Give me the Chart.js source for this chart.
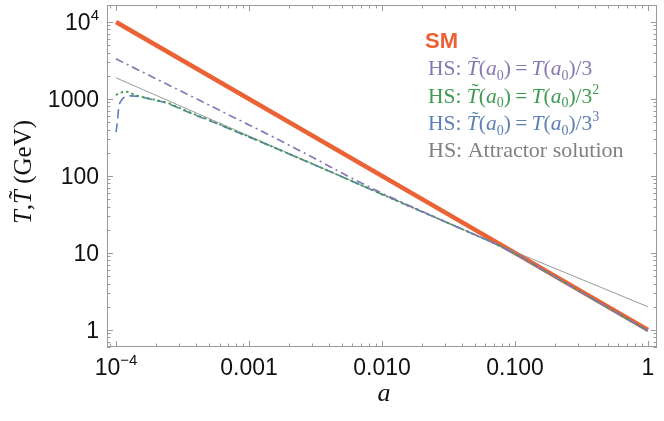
<!DOCTYPE html>
<html>
<head>
<meta charset="utf-8">
<script src="https://cdn.jsdelivr.net/npm/chart.js@4/dist/chart.umd.min.js"></script>
<style>
  html, body { margin: 0; padding: 0; background: #fff; }
</style>
</head>
<body>
<canvas id="chart" width="664" height="421"></canvas>
<script>
// Scale factor grid shared by the hidden-sector curves
const aGrid = [1e-4, 1.02e-4, 1.05e-4, 1.1e-4, 1.2e-4, 1.3e-4, 1.5e-4, 1.7e-4, 2e-4, 2.5e-4, 3e-4, 4e-4, 5e-4, 7e-4,
  1e-3, 1.5e-3, 2e-3, 3e-3, 5e-3, 7e-3, 0.01, 0.02, 0.03, 0.05, 0.07, 0.1, 0.2, 0.5, 1];

// HS temperature (GeV) for the three initial conditions
const hsThird = [3333, 3254, 3177, 3053, 2831, 2642, 2337, 2102, 1828, 1510, 1291, 1009, 834, 624,
  460, 324, 251, 175, 109, 81, 59.7, 34.7, 25.3, 17.2, 13.3, 9.7, 4.85, 1.94, 0.97];
const hsNinth = [1111, 1150, 1185, 1220, 1240, 1180, 1082, 1030, 966, 875, 765, 620, 535, 417,
  322, 239, 193, 143, 97.5, 75.5, 57.7, 34.3, 25.3, 17.2, 13.3, 9.7, 4.85, 1.94, 0.97];
const hsTwentySeventh = [370, 480, 780, 962, 1075, 1096, 1075, 1022, 955, 862, 752, 610, 527, 413,
  320, 239, 193, 143, 97.5, 75.5, 57.7, 34.3, 25.3, 17.2, 13.3, 9.7, 4.85, 1.94, 0.97];

// SM temperature and attractor solution
const smA = [1e-4, 1];
const smT = [1e4, 1];
const attractorA = [1e-4, 1e-3, 1e-2, 0.1, 1];
const attractorT = [1880, 330, 58, 10.3, 2.0];

// Tick labels
const xTicks = [1e-4, 1e-3, 1e-2, 0.1, 1];
const xTickLabels = [['10', '\u22124'], ['0.001'], ['0.010'], ['0.100'], ['1']];
const yTicks = [1, 10, 100, 1000, 1e4];
const yTickLabels = [['1'], ['10'], ['100'], ['1000'], ['10', '4']];

const SANS = '"Liberation Sans", Arial, sans-serif';
const SERIF = '"Liberation Serif", "Times New Roman", serif';

function toPoints(xs, ys) {
  return xs.map((x, i) => ({ x: x, y: ys[i] }));
}

// draw a run of text pieces with different fonts
function drawRich(ctx, x, y, segs, color, measureOnly) {
  let cx = x;
  segs.forEach((s) => {
    ctx.font = s.f;
    const w = ctx.measureText(s.t).width;
    if (!measureOnly) {
      ctx.fillStyle = color;
      ctx.fillText(s.t, cx, y + (s.dy || 0));
      if (s.tilde) {
        const size = parseFloat(s.f.match(/(\d+(\.\d+)?)px/)[1]);
        ctx.font = size + 'px ' + SERIF;
        const tw = ctx.measureText('\u02DC').width;
        ctx.fillText('\u02DC', cx + w / 2 - tw / 2 + size * 0.1, y - size * 0.2);
      }
    }
    cx += w;
  });
  return cx - x;
}

function legendSegs(size, power) {
  const R = size + 'px ' + SERIF;
  const I = 'italic ' + size + 'px ' + SERIF;
  const S = Math.round(size * 0.66) + 'px ' + SERIF;
  const segs = [
    { t: 'HS: ', f: R },
    { t: 'T', f: I, tilde: true },
    { t: '(', f: R },
    { t: 'a', f: I },
    { t: '0', f: S, dy: size * 0.22 },
    { t: ')\u2009=\u2009', f: R },
    { t: 'T', f: I },
    { t: '(', f: R },
    { t: 'a', f: I },
    { t: '0', f: S, dy: size * 0.22 },
    { t: ')/3', f: R },
  ];
  if (power) segs.push({ t: power, f: S, dy: -size * 0.4 });
  return segs;
}

const framePlugin = {
  id: 'frame',
  afterDraw(chart) {
    const ctx = chart.ctx;
    const area = chart.chartArea;
    const xs = chart.scales.x;
    const ys = chart.scales.y;
    ctx.save();

    // frame
    ctx.strokeStyle = '#9a9a9a';
    ctx.lineWidth = 1;
    ctx.strokeRect(area.left + 0.5, area.top + 0.5, area.right - area.left - 1, area.bottom - area.top - 1);

    // ticks on all four sides, pointing in
    ctx.beginPath();
    for (let n = -5; n <= 1; n++) {
      for (let k = 1; k <= 9; k++) {
        const v = k * Math.pow(10, n);
        if (v < xs.min || v > xs.max) continue;
        const px = Math.round(xs.getPixelForValue(v)) + 0.5;
        const len = k === 1 ? 6 : 3.5;
        ctx.moveTo(px, area.bottom); ctx.lineTo(px, area.bottom - len);
        ctx.moveTo(px, area.top); ctx.lineTo(px, area.top + len);
      }
    }
    for (let n = -1; n <= 5; n++) {
      for (let k = 1; k <= 9; k++) {
        const v = k * Math.pow(10, n);
        if (v < ys.min || v > ys.max) continue;
        const py = Math.round(ys.getPixelForValue(v)) + 0.5;
        const len = k === 1 ? 6 : 3.5;
        ctx.moveTo(area.left, py); ctx.lineTo(area.left + len, py);
        ctx.moveTo(area.right, py); ctx.lineTo(area.right - len, py);
      }
    }
    ctx.stroke();

    // tick labels
    const big = '23px ' + SANS;
    const small = '15px ' + SANS;
    ctx.fillStyle = '#111';
    ctx.textBaseline = 'alphabetic';
    ctx.textAlign = 'left';
    xTicks.forEach((v, i) => {
      const lab = xTickLabels[i];
      ctx.font = big;
      const w1 = ctx.measureText(lab[0]).width;
      let w2 = 0;
      if (lab[1]) { ctx.font = small; w2 = ctx.measureText(lab[1]).width; }
      const px = xs.getPixelForValue(v);
      const x0 = px - (w1 + w2) / 2;
      ctx.font = big;
      ctx.fillText(lab[0], x0, 375);
      if (lab[1]) { ctx.font = small; ctx.fillText(lab[1], x0 + w1, 365); }
    });
    yTicks.forEach((v, i) => {
      const lab = yTickLabels[i];
      ctx.font = big;
      const w1 = ctx.measureText(lab[0]).width;
      let w2 = 0;
      if (lab[1]) { ctx.font = small; w2 = ctx.measureText(lab[1]).width; }
      const py = ys.getPixelForValue(v);
      const x0 = 99 - w1 - w2;
      ctx.font = big;
      ctx.fillText(lab[0], x0, py + 8.5);
      if (lab[1]) { ctx.font = small; ctx.fillText(lab[1], x0 + w1, py - 1.5); }
    });

    // axis titles
    ctx.font = 'italic 26px ' + SERIF;
    ctx.textAlign = 'center';
    ctx.fillText('a', 384, 401);
    ctx.textAlign = 'left';

    const ySegs = [
      { t: 'T', f: 'italic 25px ' + SERIF },
      { t: ',', f: '25px ' + SERIF },
      { t: 'T', f: 'italic 25px ' + SERIF, tilde: true },
      { t: ' (GeV)', f: '25px ' + SERIF },
    ];
    ctx.translate(31, 172);
    ctx.rotate(-Math.PI / 2);
    const yw = drawRich(ctx, 0, 0, ySegs, '#111', true);
    drawRich(ctx, -yw / 2, 0, ySegs, '#111');
    ctx.setTransform(1, 0, 0, 1, 0, 0);

    // legend
    ctx.font = 'bold 22px ' + SANS;
    ctx.fillStyle = '#EB6235';
    ctx.fillText('SM', 425, 48);
    drawRich(ctx, 428, 75, legendSegs(21.5, ''), '#8778B3');
    drawRich(ctx, 428, 102.5, legendSegs(21.5, '2'), '#3F9B50');
    drawRich(ctx, 428, 130, legendSegs(21.5, '3'), '#5E81B5');
    ctx.font = '22px ' + SERIF;
    ctx.fillStyle = '#808080';
    ctx.fillText('HS: Attractor solution', 428, 157);

    ctx.restore();
  },
};

const ctx = document.getElementById('chart').getContext('2d');
new Chart(ctx, {
  type: 'line',
  data: {
    datasets: [
      {
        label: 'HS: T(a0)/3',
        data: toPoints(aGrid, hsThird),
        borderColor: '#8778B3',
        borderWidth: 1.7,
        borderDash: [8, 4, 2, 4],
        cubicInterpolationMode: 'monotone',
        order: 1,
      },
      {
        label: 'HS: T(a0)/3^2',
        data: toPoints(aGrid, hsNinth),
        borderColor: '#3F9B50',
        borderWidth: 1.8,
        borderDash: [2.5, 3],
        cubicInterpolationMode: 'monotone',
        order: 2,
      },
      {
        label: 'HS: T(a0)/3^3',
        data: toPoints(aGrid, hsTwentySeventh),
        borderColor: '#5E81B5',
        borderWidth: 1.6,
        borderDash: [9, 5],
        cubicInterpolationMode: 'monotone',
        order: 3,
      },
      {
        label: 'HS: Attractor solution',
        data: toPoints(attractorA, attractorT),
        borderColor: '#8f8f8f',
        borderWidth: 0.9,
        order: 4,
      },
      {
        label: 'SM',
        data: toPoints(smA, smT),
        borderColor: '#EB6235',
        borderWidth: 4.5,
        order: 5,
      },
    ],
  },
  options: {
    responsive: false,
    devicePixelRatio: 1,
    animation: false,
    elements: { point: { radius: 0 } },
    layout: { padding: { left: 107, right: 7, top: 5, bottom: 74 } },
    plugins: {
      legend: { display: false },
      tooltip: { enabled: false },
    },
    scales: {
      x: {
        type: 'logarithmic',
        display: false,
        min: Math.pow(10, -4.068),
        max: Math.pow(10, 0.068),
      },
      y: {
        type: 'logarithmic',
        display: false,
        min: Math.pow(10, -0.207),
        max: Math.pow(10, 4.22),
      },
    },
  },
  plugins: [framePlugin],
});
</script>
</body>
</html>
